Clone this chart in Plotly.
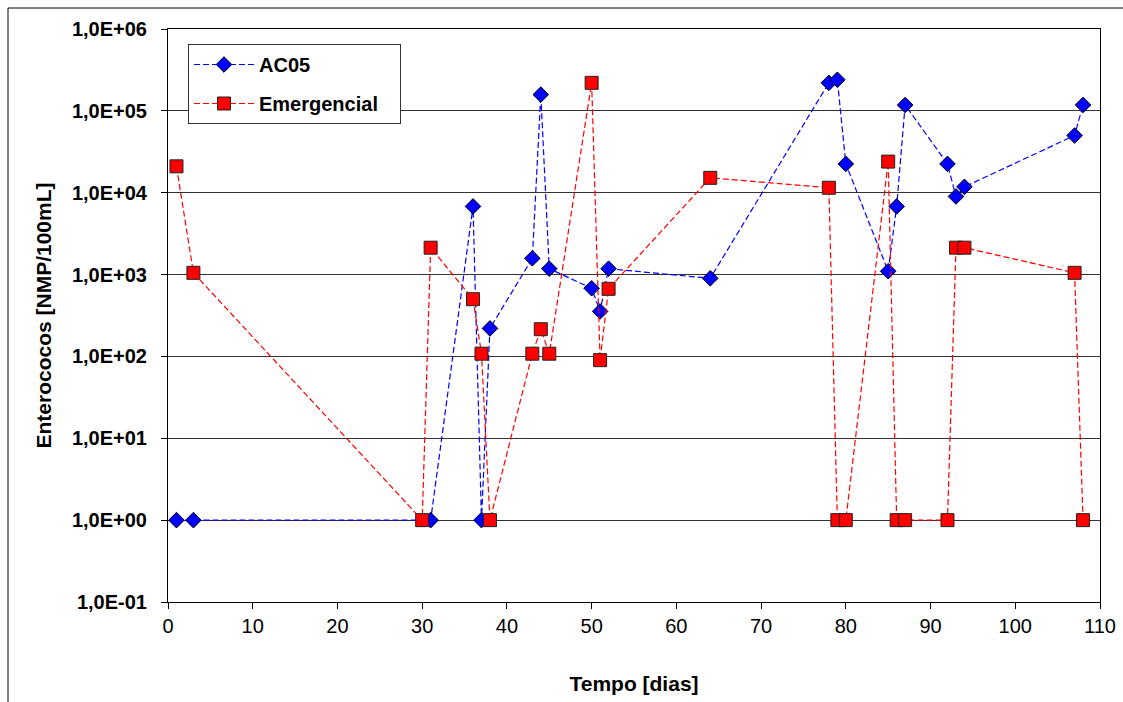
import plotly.graph_objects as go

# ---- data ----
ac05_days = [1, 3, 31, 36, 37, 38, 43, 44, 45, 50, 51, 52, 64, 78, 79, 80, 85, 86, 87, 92, 93, 94, 107, 108]
ac05_vals = [1, 1, 1, 6800, 1, 220, 1580, 158000, 1180, 680, 355, 1180, 900, 220000, 240000, 22500,
             1100, 6800, 118000, 22500, 9000, 11800, 50000, 118000]

emer_days = [1, 3, 30, 31, 36, 37, 38, 43, 44, 45, 50, 51, 52, 64, 78, 79, 80, 85, 86, 87, 92, 93, 94, 107, 108]
emer_vals = [21000, 1050, 1, 2130, 500, 108, 1, 108, 215, 108, 220000, 90, 670, 15200, 11500, 1, 1,
             24000, 1, 1, 1, 2130, 2130, 1050, 1]

y_tickvals = [0.1, 1, 10, 100, 1000, 10000, 100000, 1000000]
y_ticktext = ["1,0E-01", "1,0E+00", "1,0E+01", "1,0E+02", "1,0E+03", "1,0E+04", "1,0E+05", "1,0E+06"]
x_tickvals = [0, 10, 20, 30, 40, 50, 60, 70, 80, 90, 100, 110]

W, H = 1123, 702
L, R, T, B = 168, 1100, 29, 602
pw, ph = R - L, B - T

def px2x(p):
    return (p - L) / pw

def py2y(p):
    return (B - p) / ph

font_fam = "Liberation Sans, Arial, sans-serif"
pad = "\u00a0" * 3

fig = go.Figure()
fig.add_trace(go.Scatter(
    x=ac05_days, y=ac05_vals, name="<b>AC05</b>", mode="lines+markers",
    legendgroup="a",
    line=dict(color="#0000FF", width=1.2, dash="6px,3px"),
    marker=dict(symbol="diamond", size=12, color="#0000FF", line=dict(color="#000000", width=1)),
))
fig.add_trace(go.Scatter(
    x=emer_days, y=emer_vals, name="<b>Emergencial</b>" + pad, mode="lines+markers",
    legendgroup="b",
    line=dict(color="#FF0000", width=1.2, dash="6px,3px"),
    marker=dict(symbol="square", size=13, color="#FF0000", line=dict(color="#222222", width=1)),
))

fig.update_layout(
    width=W, height=H,
    margin=dict(l=L, r=W - R, t=T, b=H - B, autoexpand=False),
    paper_bgcolor="white", plot_bgcolor="white",
    font=dict(family=font_fam, size=20, color="black"),
    showlegend=True,
    legend=dict(
        x=px2x(188), y=py2y(44), xanchor="left", yanchor="top",
        bgcolor="white", bordercolor="#333333", borderwidth=1,
        font=dict(size=20, family=font_fam, color="black"),
        tracegroupgap=10, itemwidth=60,
    ),
    xaxis=dict(
        range=[0, 110], tickvals=x_tickvals, ticks="outside", ticklen=6, tickcolor="black",
        showline=True, linecolor="black", linewidth=1, mirror=True,
        showgrid=False, zeroline=False, automargin=False,
        tickfont=dict(size=20, family=font_fam),
        title=dict(text="<b>Tempo [dias]</b>", font=dict(size=21), standoff=40),
        tickprefix="<b>", ticksuffix="</b>",
    ),
    yaxis=dict(
        type="log", range=[-1, 6], tickvals=y_tickvals, ticktext=["<b>" + t + "</b>" for t in y_ticktext],
        ticks="outside", ticklen=6, tickcolor="black", ticklabelstandoff=10,
        showline=True, linecolor="black", linewidth=1, mirror=True,
        showgrid=True, gridcolor="#333333", gridwidth=1, zeroline=False, automargin=False,
        tickfont=dict(size=20, family=font_fam),
        title=dict(text="<b>Enterococos [NMP/100mL]</b>", font=dict(size=21), standoff=14),
    ),
)

# outer chart frame
fig.add_shape(type="rect", xref="paper", yref="paper",
              x0=px2x(8), x1=px2x(1135), y0=py2y(715), y1=py2y(8),
              line=dict(color="black", width=1), fillcolor="rgba(0,0,0,0)", layer="below")

fig.write_html("out.html")
